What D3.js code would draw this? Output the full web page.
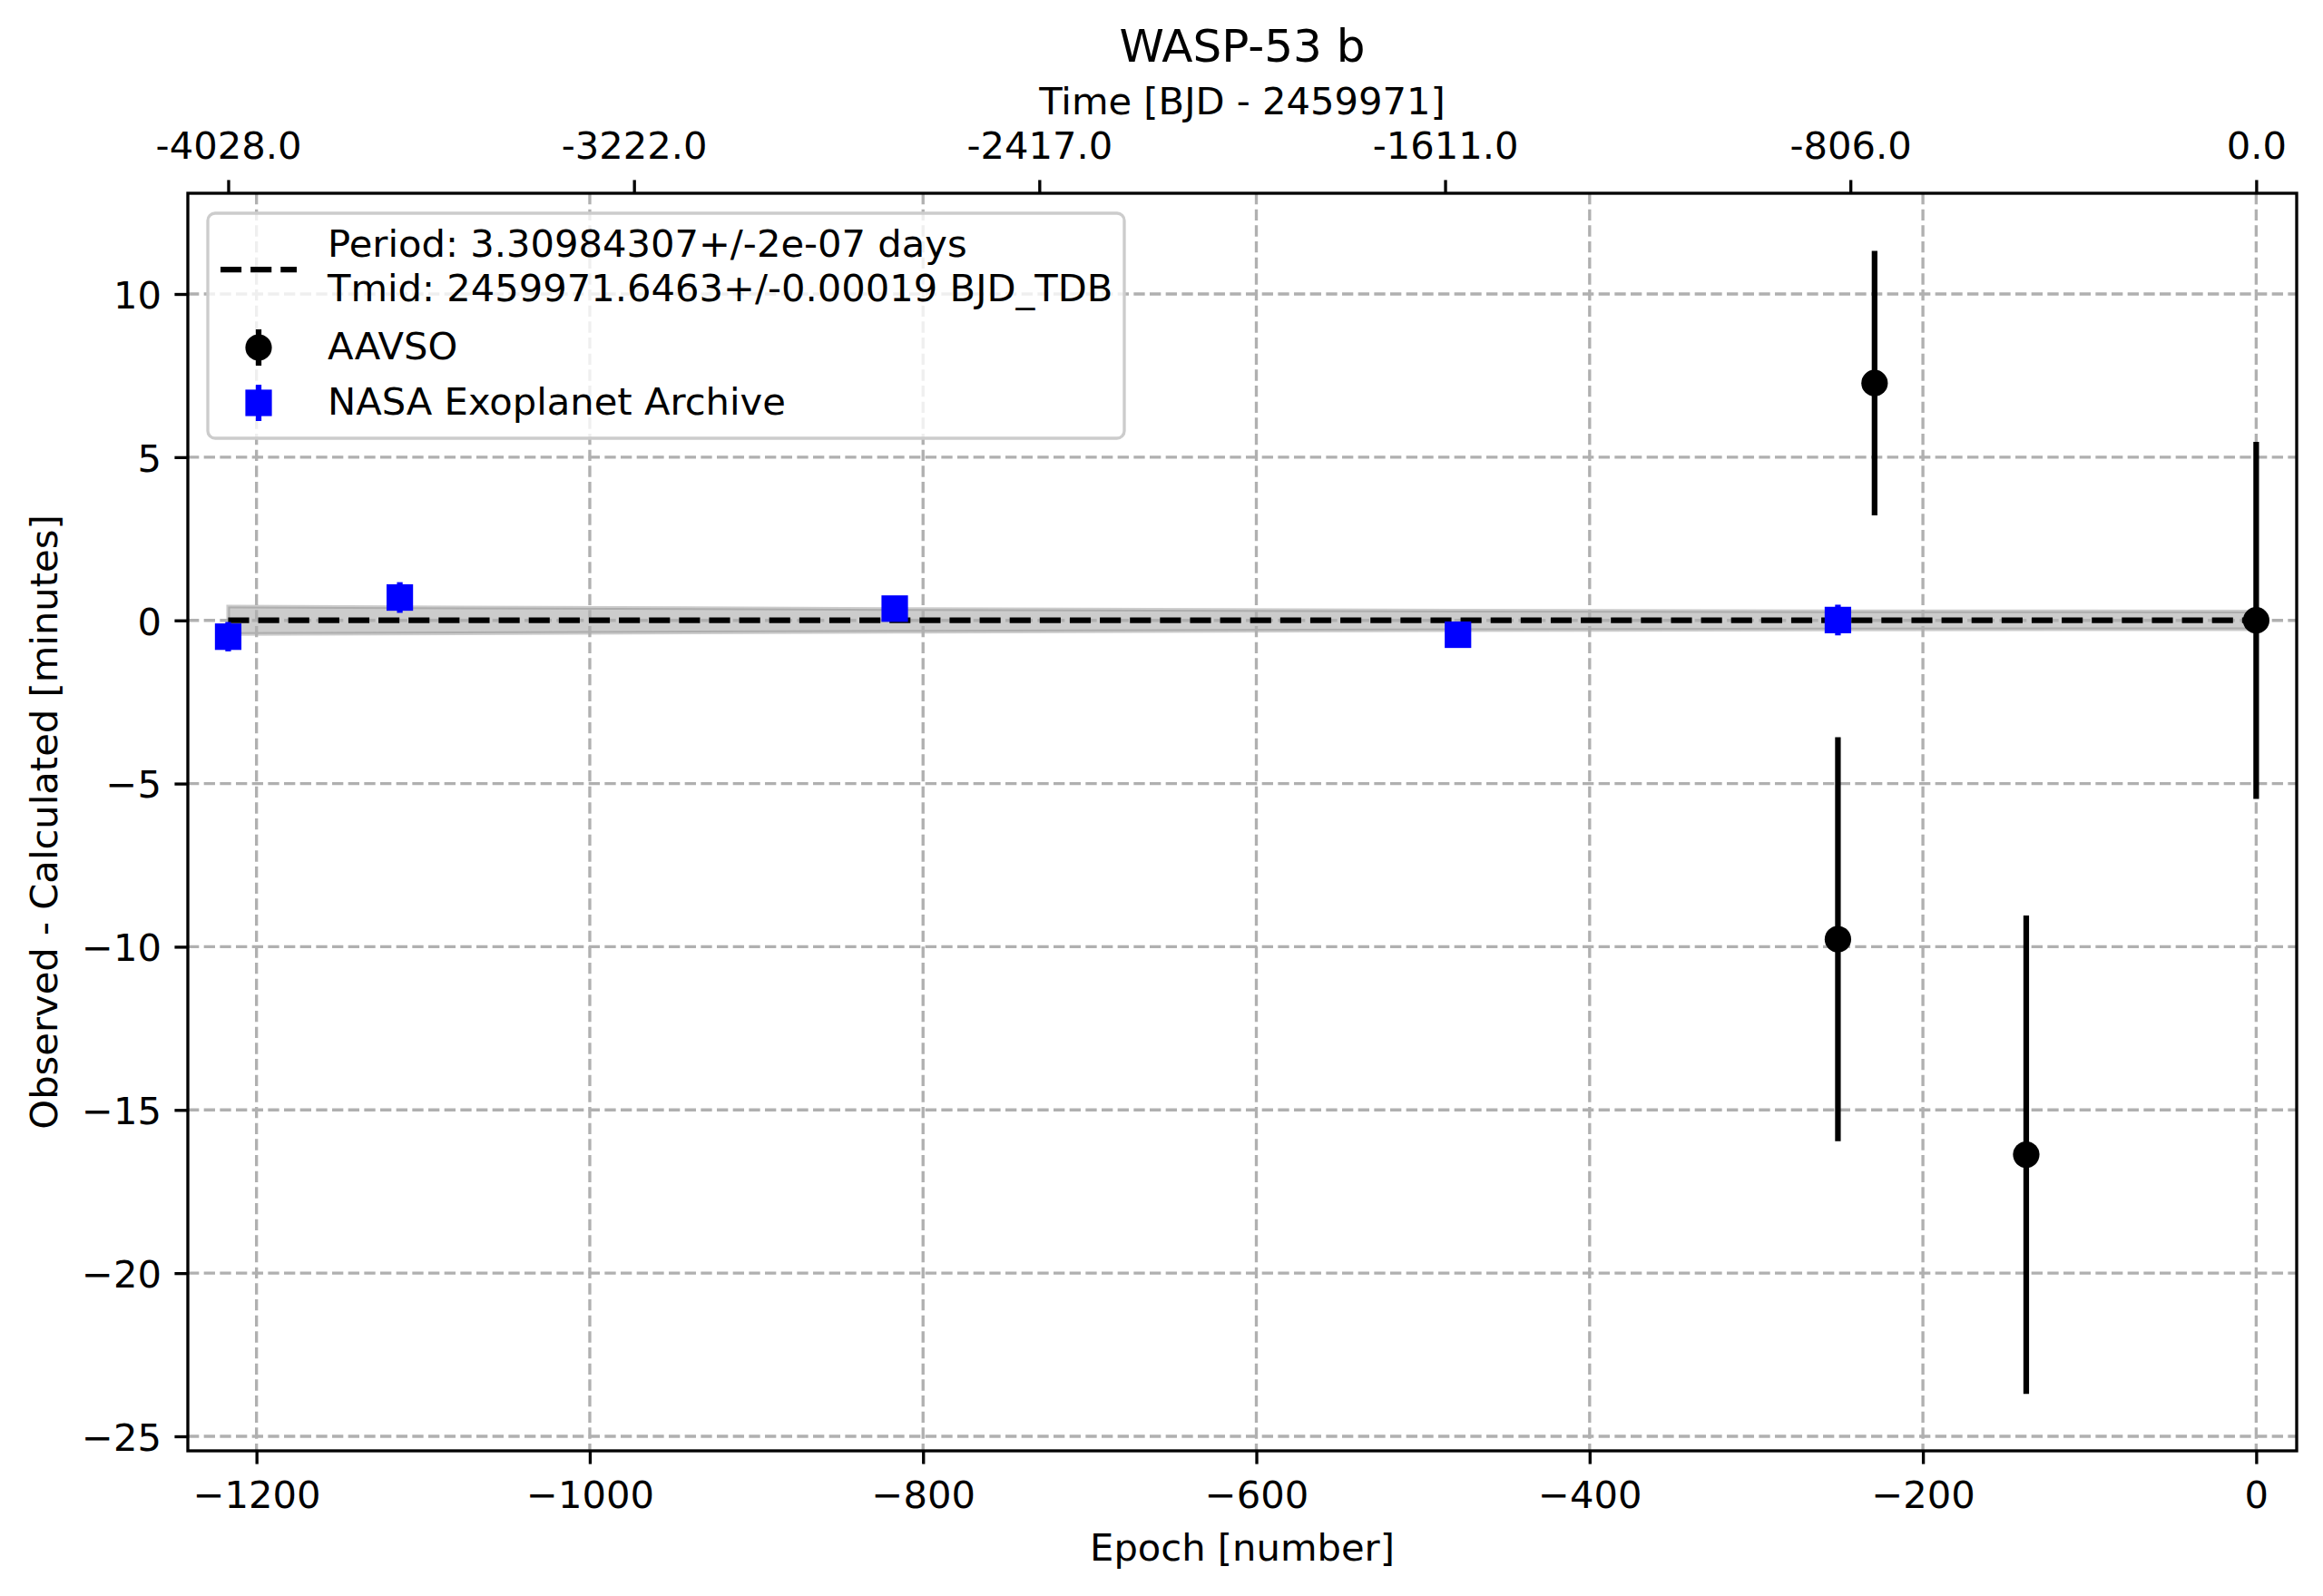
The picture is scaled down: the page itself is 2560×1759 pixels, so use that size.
<!DOCTYPE html>
<html>
<head>
<meta charset="utf-8">
<script src="https://cdn.jsdelivr.net/npm/d3@7"></script>
<style>
body { margin: 0; background: #fff; }
svg { display: block; font-family: "DejaVu Sans", sans-serif; }
</style>
</head>
<body>
<svg id="chart" width="2560" height="1759"></svg>
<script>
// ephemeris
var PERIOD = 3.30984307
var legendText = ["Period: 3.30984307+/-2e-07 days", "Tmid: 2459971.6463+/-0.00019 BJD_TDB"]

// ticks
var xTicks = [-1200, -1000, -800, -600, -400, -200, 0]
var yTicks = [-25, -20, -15, -10, -5, 0, 5, 10]
var topTickTimes = [-4028, -3222, -2417, -1611, -806, 0]

// AAVSO observations (epoch, O-C minutes, error)
var aavsoEpoch = [-251, -229, -138, 0]
var aavsoOC = [-9.77, 7.27, -16.37, 0.0]
var aavsoErr = [6.19, 4.05, 7.33, 5.47]

// NASA Exoplanet Archive
var nasaEpoch = [-1217, -1114, -817, -479, -251]
var nasaOC = [-0.50, 0.70, 0.36, -0.44, 0.01]
var nasaErr = [0.45, 0.47, 0.35, 0.30, 0.47]

// ephemeris uncertainty band and fit line
var bandEpoch = [-1217, -817, -479, -251, 0]
var bandHalf = [0.42, 0.35, 0.30, 0.28, 0.27]
var fitEpoch = [-1217, 0]
var fitOC = [0, 0]

var PT = 300 / 72
var FONT = 10 * PT

var svg = d3.select("#chart")
svg.append("rect").attr("width", 2560).attr("height", 1759).attr("fill", "#fff")

var plot = {left: 207, right: 2531, top: 213, bottom: 1599}

var x = d3.scaleLinear().domain([-1241.2, 24.3]).range([plot.left, plot.right])
var y = d3.scaleLinear().domain([-25.445, 13.086]).range([plot.bottom, plot.top])

// band
var bandData = bandEpoch.map(function(e, i){ return {e: e, h: bandHalf[i]} })
svg.append("path")
    .datum(bandData)
    .attr("d", d3.area()
        .x(function(d){ return x(d.e) })
        .y0(function(d){ return y(-d.h) })
        .y1(function(d){ return y(d.h) }))
    .attr("fill", "gray").attr("fill-opacity", 0.4)
    .attr("stroke", "gray").attr("stroke-opacity", 0.4)
    .attr("stroke-width", 4)

// grid
var grid = svg.append("g")
    .attr("stroke", "#b0b0b0")
    .attr("stroke-width", 0.8 * PT)
    .attr("stroke-dasharray", (2.96 * PT) + "," + (1.28 * PT))
grid.selectAll(".gx").data(xTicks).join("line")
    .attr("x1", function(d){ return x(d) }).attr("x2", function(d){ return x(d) })
    .attr("y1", plot.top).attr("y2", plot.bottom)
grid.selectAll(".gy").data(yTicks).join("line")
    .attr("class", "gy")
    .attr("y1", function(d){ return y(d) }).attr("y2", function(d){ return y(d) })
    .attr("x1", plot.left).attr("x2", plot.right)

// fit line
svg.append("path")
    .datum(fitEpoch.map(function(e, i){ return [e, fitOC[i]] }))
    .attr("d", d3.line().x(function(d){ return x(d[0]) }).y(function(d){ return y(d[1]) }))
    .attr("fill", "none")
    .attr("stroke", "#000")
    .attr("stroke-width", 1.5 * PT)
    .attr("stroke-dasharray", (5.55 * PT) + "," + (2.4 * PT))

function drawErrorbars(ex, ey, ee, color, shape)
{
    var g = svg.append("g")
    var pts = ex.map(function(e, i){ return {e: e, v: ey[i], err: ee[i]} })
    g.selectAll("line").data(pts).join("line")
        .attr("x1", function(d){ return x(d.e) }).attr("x2", function(d){ return x(d.e) })
        .attr("y1", function(d){ return y(d.v - d.err) })
        .attr("y2", function(d){ return y(d.v + d.err) })
        .attr("stroke", color).attr("stroke-width", 1.5 * PT)
    if(shape == "circle")
    {
        g.selectAll("circle").data(pts).join("circle")
            .attr("cx", function(d){ return x(d.e) })
            .attr("cy", function(d){ return y(d.v) })
            .attr("r", 14.6).attr("fill", color)
    }
    else
    {
        g.selectAll("rect").data(pts).join("rect")
            .attr("x", function(d){ return x(d.e) - 14.6 })
            .attr("y", function(d){ return y(d.v) - 14.6 })
            .attr("width", 29.2).attr("height", 29.2).attr("fill", color)
    }
}

drawErrorbars(aavsoEpoch, aavsoOC, aavsoErr, "#000", "circle")
drawErrorbars(nasaEpoch, nasaOC, nasaErr, "#0000ff", "square")

// frame
svg.append("rect")
    .attr("x", plot.left).attr("y", plot.top)
    .attr("width", plot.right - plot.left).attr("height", plot.bottom - plot.top)
    .attr("fill", "none").attr("stroke", "#000").attr("stroke-width", 0.8 * PT)

function styleAxis(g)
{
    g.select(".domain").remove()
    g.selectAll(".tick line").attr("stroke", "#000").attr("stroke-width", 0.8 * PT)
    g.selectAll(".tick text").attr("fill", "#000").attr("font-size", FONT)
        .attr("font-family", "DejaVu Sans")
}

var bottomAxis = svg.append("g")
    .attr("transform", "translate(0," + plot.bottom + ")")
    .call(d3.axisBottom(x).tickValues(xTicks).tickFormat(d3.format("d"))
        .tickSizeInner(3.5 * PT).tickSizeOuter(0).tickPadding(18.8))
styleAxis(bottomAxis)

var leftAxis = svg.append("g")
    .attr("transform", "translate(" + plot.left + ",0)")
    .call(d3.axisLeft(y).tickValues(yTicks).tickFormat(d3.format("d"))
        .tickSizeInner(3.5 * PT).tickSizeOuter(0).tickPadding(14.4))
styleAxis(leftAxis)
leftAxis.selectAll(".tick text").attr("dy", "0.37em")

var topAxis = svg.append("g")
    .attr("transform", "translate(0," + plot.top + ")")
    .call(d3.axisTop(x).tickValues(topTickTimes.map(function(t){ return t / PERIOD }))
        .tickFormat(function(d, i){ return topTickTimes[i].toFixed(1) })
        .tickSizeInner(3.5 * PT).tickSizeOuter(0).tickPadding(23.4))
styleAxis(topAxis)

var cx = (plot.left + plot.right) / 2

// titles
svg.append("text").attr("x", cx).attr("y", 67.5).attr("text-anchor", "middle")
    .attr("font-size", 12 * PT).text("WASP-53 b")
svg.append("text").attr("x", cx).attr("y", 126).attr("text-anchor", "middle")
    .attr("font-size", FONT).text("Time [BJD - 2459971]")
svg.append("text").attr("x", cx).attr("y", 1720).attr("text-anchor", "middle")
    .attr("font-size", FONT).text("Epoch [number]")
svg.append("text")
    .attr("transform", "translate(63," + ((plot.top + plot.bottom) / 2) + ") rotate(-90)")
    .attr("text-anchor", "middle")
    .attr("font-size", FONT).text("Observed - Calculated [minutes]")

// legend
var legend = svg.append("g")
legend.append("rect")
    .attr("x", 229).attr("y", 235).attr("width", 1010).attr("height", 248)
    .attr("rx", 8).attr("ry", 8)
    .attr("fill", "#fff").attr("fill-opacity", 0.8)
    .attr("stroke", "#cccccc").attr("stroke-width", 0.8 * PT)

legend.append("line")
    .attr("x1", 243).attr("x2", 327).attr("y1", 297).attr("y2", 297)
    .attr("stroke", "#000").attr("stroke-width", 1.5 * PT)
    .attr("stroke-dasharray", (5.55 * PT) + "," + (2.4 * PT))
legend.selectAll(".lt").data(legendText).join("text")
    .attr("x", 361).attr("y", function(d, i){ return 283 + i * 49 })
    .attr("font-size", FONT).text(function(d){ return d })

var legendMarks = [
    {label: "AAVSO", color: "#000", shape: "circle", cy: 383},
    {label: "NASA Exoplanet Archive", color: "#0000ff", shape: "square", cy: 444}
]
legendMarks.forEach(function(m)
{
    legend.append("line")
        .attr("x1", 285).attr("x2", 285).attr("y1", m.cy - 20).attr("y2", m.cy + 20)
        .attr("stroke", m.color).attr("stroke-width", 1.5 * PT)
    if(m.shape == "circle")
        legend.append("circle").attr("cx", 285).attr("cy", m.cy).attr("r", 14.6).attr("fill", m.color)
    else
        legend.append("rect").attr("x", 285 - 14.6).attr("y", m.cy - 14.6)
            .attr("width", 29.2).attr("height", 29.2).attr("fill", m.color)
    legend.append("text").attr("x", 361).attr("y", m.cy + 13)
        .attr("font-size", FONT).text(m.label)
})
</script>
</body>
</html>
